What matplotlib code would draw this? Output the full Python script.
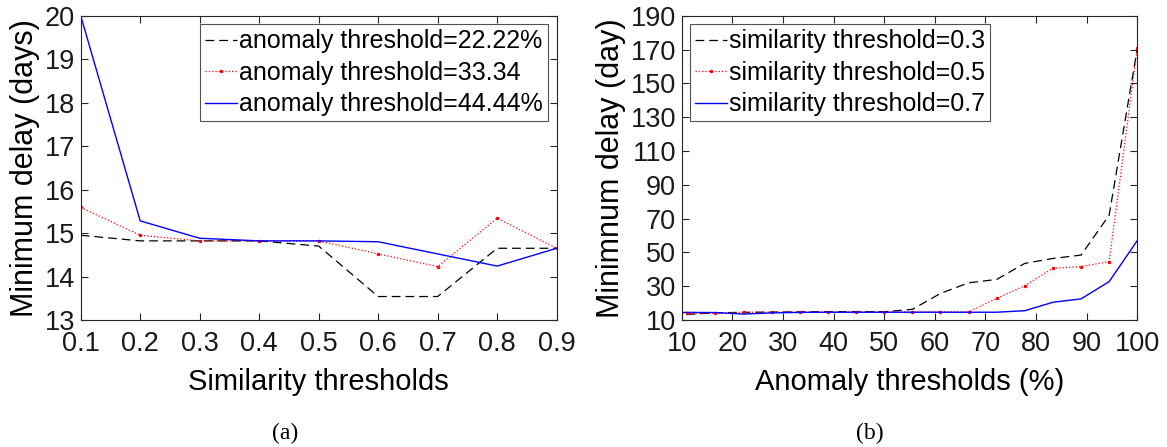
import numpy as np
from matplotlib import pyplot as plt

plt.rcParams['font.family'] = ['Liberation Sans', 'DejaVu Sans']

# (a) minimum delay vs similarity threshold
sim_x = [0.1, 0.2, 0.3, 0.4, 0.5, 0.6, 0.7, 0.8, 0.9]
delay_a22 = [14.95, 14.82, 14.82, 14.82, 14.70, 13.54, 13.54, 14.65, 14.65]
delay_a33 = [15.59, 14.95, 14.82, 14.82, 14.82, 14.52, 14.23, 15.34, 14.65]
delay_a44 = [20.0, 15.28, 14.88, 14.82, 14.82, 14.80, 14.52, 14.24, 14.65]
labels_a = ['anomaly threshold=22.22%', 'anomaly threshold=33.34',
            'anomaly threshold=44.44%']

# (b) minimum delay vs anomaly threshold (%)
anom_x = [5.56, 11.11, 16.67, 22.22, 27.78, 33.33, 38.89, 44.44, 50.0,
          55.56, 61.11, 66.67, 72.22, 77.78, 83.33, 88.89, 94.44, 100.0]
delay_s3 = [13.0, 13.3, 14.3, 14.5, 14.7, 14.8, 14.9, 14.9, 14.9,
            16.3, 25.7, 32.0, 34.0, 43.5, 46.4, 48.4, 72.0, 170.7]
delay_s5 = [14.0, 14.0, 14.0, 14.6, 14.6, 14.6, 14.7, 14.7, 14.8,
            14.8, 14.8, 14.8, 22.8, 30.3, 40.6, 41.6, 44.5, 170.7]
delay_s7 = [14.5, 14.5, 14.4, 13.5, 14.2, 14.5, 14.6, 14.6, 14.6,
            14.6, 14.6, 14.6, 14.6, 15.5, 20.5, 22.5, 32.7, 57.0]
labels_b = ['similarity threshold=0.3', 'similarity threshold=0.5',
            'similarity threshold=0.7']

spine_c = '#262626'

fig = plt.figure(figsize=(11.67, 4.47), dpi=100)
ax1 = fig.add_axes([80.7 / 1167, 1 - 320 / 447, 476 / 1167, 304.3 / 447])
ax2 = fig.add_axes([681.7 / 1167, 1 - 320 / 447, 455.6 / 1167, 304.3 / 447])


def style(ax):
    for s in ax.spines.values():
        s.set_color(spine_c)
        s.set_linewidth(0.8)
    ax.tick_params(direction='in', top=True, right=True, length=5,
                   width=0.8, colors=spine_c, labelsize=19.5)
    ax.tick_params(axis='x', pad=8)
    ax.tick_params(axis='y', pad=4)
    for t in ax.get_xticklabels() + ax.get_yticklabels():
        t.set_color('#1a1a1a')


def add_legend(ax, loc):
    leg = ax.legend(loc=loc, fontsize=18, frameon=True, fancybox=False,
                    edgecolor=spine_c, borderaxespad=0.35, handlelength=1.25,
                    handletextpad=0.1, borderpad=0.2, labelspacing=0.3)
    leg.get_frame().set_linewidth(0.8)
    return leg


ax1.plot(sim_x, delay_a22, color='black', ls=(0, (7, 4)), lw=0.9, label=labels_a[0])
ax1.plot(sim_x, delay_a33, color='red', ls=':', lw=0.9, marker='.', ms=3, label=labels_a[1])
ax1.plot(sim_x, delay_a44, color='blue', ls='-', lw=1.0, label=labels_a[2])
ax1.set_xlim(0.1, 0.9)
ax1.set_ylim(13, 20)
ax1.set_xticks(sim_x)
ax1.set_xticklabels(['%.1f' % v for v in sim_x])
ax1.set_yticks(range(13, 21))
ax1.set_xlabel('Similarity thresholds', fontsize=21, labelpad=8)
ax1.set_ylabel('Minimum delay (days)', fontsize=22, labelpad=3)
style(ax1)
add_legend(ax1, 'upper right')

ax2.plot(anom_x, delay_s3, color='black', ls=(0, (7, 4)), lw=0.9, label=labels_b[0])
ax2.plot(anom_x, delay_s5, color='red', ls=':', lw=0.9, marker='.', ms=3, label=labels_b[1])
ax2.plot(anom_x, delay_s7, color='blue', ls='-', lw=1.0, label=labels_b[2])
ax2.set_xlim(10, 100)
ax2.set_ylim(10, 190)
ax2.set_xticks(range(10, 101, 10))
ax2.set_yticks(range(10, 191, 20))
ax2.set_xlabel('Anomaly thresholds (%)', fontsize=21, labelpad=8)
ax2.set_ylabel('Minimnum delay (day)', fontsize=22, labelpad=3)
style(ax2)
add_legend(ax2, 'upper left')

fig.text(285 / 1167, 1 - 433 / 447, '(a)', ha='center', va='center',
         fontsize=17, family='Liberation Serif')
fig.text(870 / 1167, 1 - 433 / 447, '(b)', ha='center', va='center',
         fontsize=17, family='Liberation Serif')

fig.savefig('out.png', dpi=100)
